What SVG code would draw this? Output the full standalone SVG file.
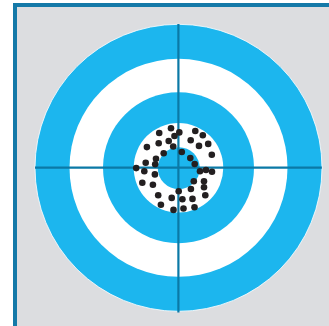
<svg xmlns="http://www.w3.org/2000/svg" width="329" height="326" viewBox="0 0 329 326">
<style>
.blue{fill:#1cb6ee}
.white{fill:#ffffff}
.dot{fill:#231f20}
.cross{stroke:#0b79a6;stroke-width:2.2;fill:none}
</style>
<rect x="0" y="0" width="329" height="326" fill="#ffffff"/>
<rect x="15" y="5" width="314" height="321" fill="#dcdde0"/>
<path d="M15,326 V5 H329" fill="none" stroke="#1479a8" stroke-width="4"/>
<g id="target">
<circle class="blue" cx="178.5" cy="167.8" r="143.5" stroke="#ffffff" stroke-width="0.8"/>
<circle class="white" cx="178.5" cy="167.8" r="109"/>
<circle class="blue" cx="178.5" cy="167.8" r="75.5"/>
<circle class="white" cx="178.5" cy="167.8" r="44.8"/>
<circle class="blue" cx="178.8" cy="168.2" r="21"/>
</g>
<g id="crosshair">
<line class="cross" x1="35" y1="167.6" x2="321.8" y2="167.6"/>
<line class="cross" x1="178.4" y1="24" x2="178.4" y2="312.5"/>
</g>
<g id="dots">
<circle class="dot" cx="171" cy="128.3" r="3.3"/>
<circle class="dot" cx="159.2" cy="133" r="3.3"/>
<circle class="dot" cx="179.3" cy="132.4" r="3.3"/>
<circle class="dot" cx="174.5" cy="136" r="3.3"/>
<circle class="dot" cx="195.3" cy="131" r="3.3"/>
<circle class="dot" cx="202.8" cy="135.3" r="3.3"/>
<circle class="dot" cx="168.7" cy="141" r="3.3"/>
<circle class="dot" cx="158.7" cy="143.3" r="3.3"/>
<circle class="dot" cx="190.7" cy="140.3" r="3.3"/>
<circle class="dot" cx="199" cy="145.9" r="3.3"/>
<circle class="dot" cx="208.2" cy="143.9" r="3.3"/>
<circle class="dot" cx="146.9" cy="147.1" r="3.3"/>
<circle class="dot" cx="173.2" cy="146.5" r="3.3"/>
<circle class="dot" cx="181.8" cy="152" r="3.3"/>
<circle class="dot" cx="163.7" cy="153.3" r="3.3"/>
<circle class="dot" cx="211.8" cy="154.7" r="3.3"/>
<circle class="dot" cx="190.3" cy="158.1" r="3.3"/>
<circle class="dot" cx="156" cy="158.7" r="3.3"/>
<circle class="dot" cx="145.7" cy="162.8" r="3.3"/>
<circle class="dot" cx="155.2" cy="164.2" r="3.3"/>
<circle class="dot" cx="194.7" cy="164" r="3.3"/>
<circle class="dot" cx="136.2" cy="168.1" r="3.3"/>
<circle class="dot" cx="144.3" cy="171.3" r="3.3"/>
<circle class="dot" cx="200" cy="171.3" r="3.3"/>
<circle class="dot" cx="206" cy="170" r="3.3"/>
<circle class="dot" cx="212" cy="171.7" r="3.3"/>
<circle class="dot" cx="154.9" cy="174.4" r="3.3"/>
<circle class="dot" cx="193.8" cy="181.2" r="3.3"/>
<circle class="dot" cx="204" cy="181.2" r="3.3"/>
<circle class="dot" cx="142.3" cy="182.7" r="3.3"/>
<circle class="dot" cx="152.9" cy="184.7" r="3.3"/>
<circle class="dot" cx="204" cy="187.2" r="3.3"/>
<circle class="dot" cx="190.9" cy="189" r="3.3"/>
<circle class="dot" cx="178.7" cy="191.2" r="3.3"/>
<circle class="dot" cx="158.2" cy="195.3" r="3.3"/>
<circle class="dot" cx="205.3" cy="195.3" r="3.3"/>
<circle class="dot" cx="171.7" cy="197.9" r="3.3"/>
<circle class="dot" cx="182.4" cy="199.3" r="3.3"/>
<circle class="dot" cx="192.5" cy="198.9" r="3.3"/>
<circle class="dot" cx="160.9" cy="204.7" r="3.3"/>
<circle class="dot" cx="194.5" cy="207.2" r="3.3"/>
<circle class="dot" cx="183.5" cy="208.5" r="3.3"/>
<circle class="dot" cx="173.5" cy="209.9" r="3.3"/>
</g>
</svg>
